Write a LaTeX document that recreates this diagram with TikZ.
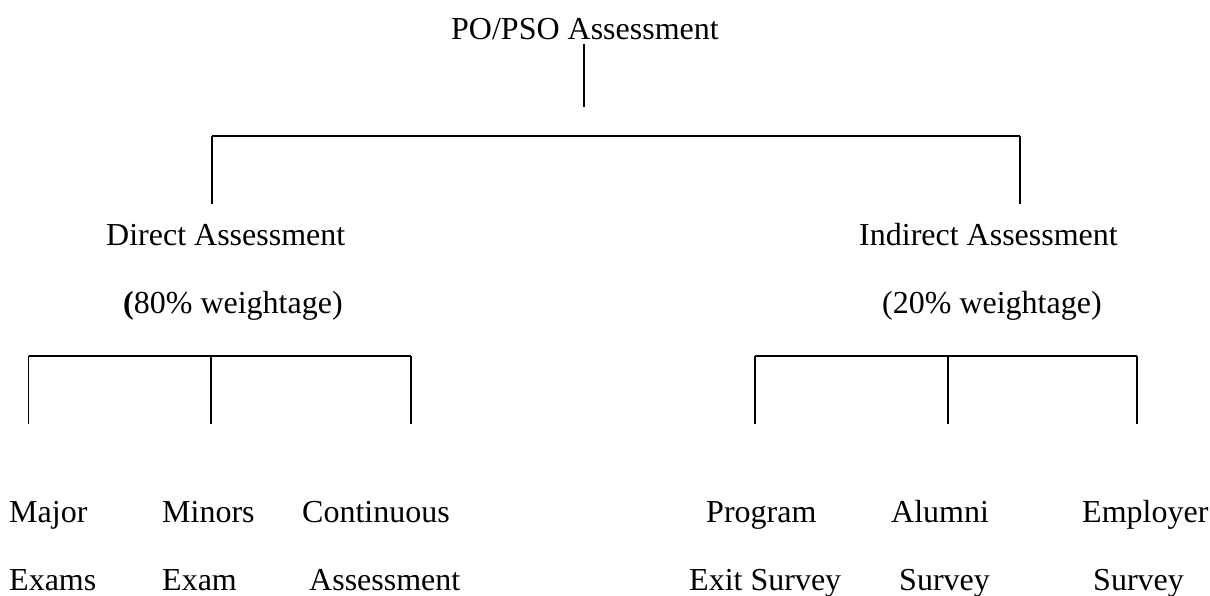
\documentclass[tikz,border=0pt]{standalone}
\usepackage{fontspec}
\setmainfont{Liberation Serif}
\begin{document}
\begin{tikzpicture}[x=1pt,y=-1pt,
  lbl/.style={inner sep=0pt,anchor=base west,font=\fontsize{32}{38}\selectfont},
  vline/.style={line width=1.4pt},
  hline/.style={line width=2pt}]
\useasboundingbox (0,0) rectangle (1210,595);
% texts
\node[lbl] (root) at (451,39) {PO/PSO Assessment};
\node[lbl] (direct) at (106,245) {Direct Assessment};
\node[lbl] (directw) at (123,313) {\textbf{(}80\% weightage)};
\node[lbl] (indirect) at (859,245) {Indirect Assessment};
\node[lbl] (indirectw) at (882,313) {(20\% weightage)};
\node[lbl] (major) at (9,522) {Major};
\node[lbl] (majorb) at (9,590) {Exams};
\node[lbl] (minors) at (162,522) {Minors};
\node[lbl] (minorsb) at (162,590) {Exam};
\node[lbl] (cont) at (302,522) {Continuous};
\node[lbl] (contb) at (309,590) {Assessment};
\node[lbl] (prog) at (706,522) {Program};
\node[lbl] (progb) at (689,590) {Exit Survey};
\node[lbl] (alum) at (891,522) {Alumni};
\node[lbl] (alumb) at (899,590) {Survey};
\node[lbl] (emp) at (1082,522) {Employer};
\node[lbl] (empb) at (1093,590) {Survey};
% coordinates
\coordinate (r1) at (584,44);
\coordinate (r2) at (584,107);
\coordinate (tl) at (212,136);
\coordinate (tr) at (1020,136);
\coordinate (tlb) at (212,204);
\coordinate (trb) at (1020,204);
\coordinate (la) at (28.5,356);
\coordinate (lb) at (211,356);
\coordinate (lc) at (411,356);
\coordinate (la2) at (28.5,424);
\coordinate (lb2) at (211,424);
\coordinate (lc2) at (411,424);
\coordinate (ra) at (755,356);
\coordinate (rb) at (948,356);
\coordinate (rc) at (1137,356);
\coordinate (ra2) at (755,424);
\coordinate (rb2) at (948,424);
\coordinate (rc2) at (1137,424);
% connectors
\draw[vline] (r1) -- (r2);
\draw[hline] (tl) -- (tr);
\draw[vline] (tl) -- (tlb);
\draw[vline] (tr) -- (trb);
\draw[hline] (la) -- (lc);
\draw[vline] (la) -- (la2);
\draw[vline] (lb) -- (lb2);
\draw[vline] (lc) -- (lc2);
\draw[hline] (ra) -- (rc);
\draw[vline] (ra) -- (ra2);
\draw[vline] (rb) -- (rb2);
\draw[vline] (rc) -- (rc2);
\end{tikzpicture}
\end{document}
